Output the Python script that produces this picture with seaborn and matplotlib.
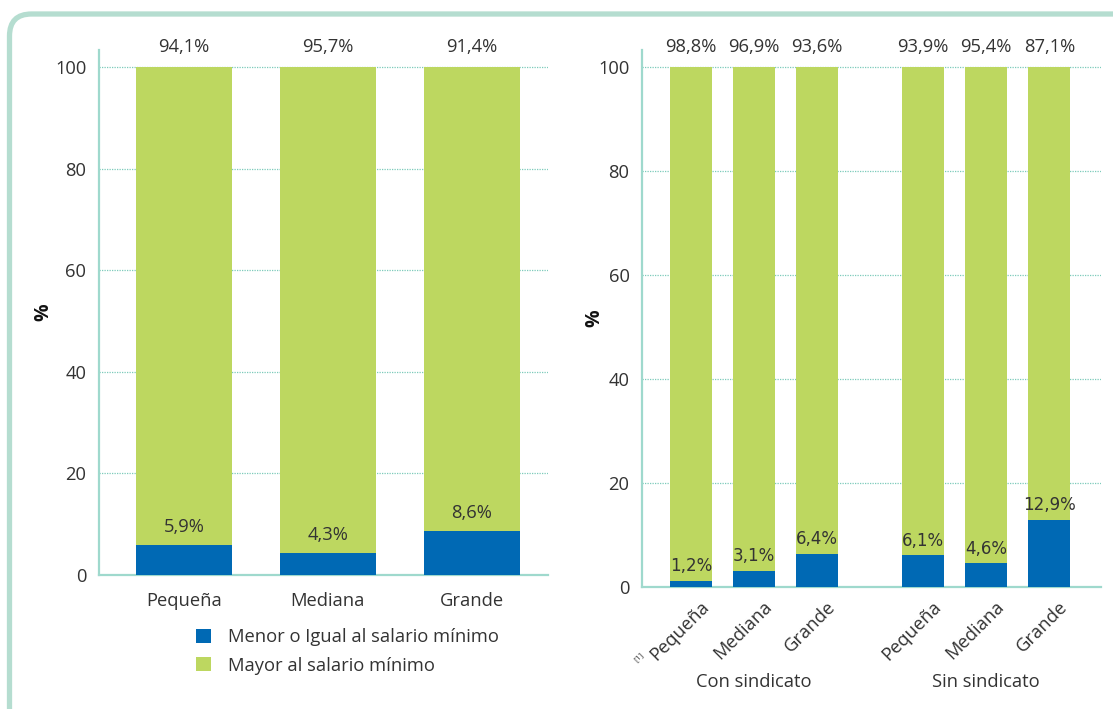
import matplotlib
matplotlib.use("Agg")
import matplotlib.pyplot as plt
import matplotlib.transforms as mtransforms
from matplotlib.patches import FancyBboxPatch, Patch
import seaborn as sns
import numpy as np

# ---- data ----
left_categories = ["Pequeña", "Mediana", "Grande"]
left_low = [5.9, 4.3, 8.6]          # Menor o Igual al salario mínimo
left_high = [94.1, 95.7, 91.4]      # Mayor al salario mínimo

right_categories = ["Pequeña", "Mediana", "Grande", "Pequeña", "Mediana", "Grande"]
right_groups = ["Con sindicato", "Con sindicato", "Con sindicato",
                "Sin sindicato", "Sin sindicato", "Sin sindicato"]
right_low = [1.2, 3.1, 6.4, 6.1, 4.6, 12.9]
right_high = [98.8, 96.9, 93.6, 93.9, 95.4, 87.1]

series_names = ["Menor o Igual al salario mínimo", "Mayor al salario mínimo"]
y_ticks = [0, 20, 40, 60, 80, 100]

# ---- style ----
BLUE = "#0069b4"
GREEN = "#bdd760"
TEAL = "#9fd9cd"
GRID = "#7ccbbb"
TXT = "#333333"
FS = 13.2

sns.set_style("white")
plt.rcParams["font.family"] = ["Open Sans", "DejaVu Sans"]
plt.rcParams["text.color"] = TXT
plt.rcParams["xtick.labelsize"] = FS
plt.rcParams["ytick.labelsize"] = FS
plt.rcParams["xtick.color"] = TXT
plt.rcParams["ytick.color"] = TXT

W, H = 1113, 709
fig = plt.figure(figsize=(W / 100, H / 100), dpi=100)

# border card
card = FancyBboxPatch((9.5, -30), 1300, 709 - 14 + 30, boxstyle="round,pad=0,rounding_size=22",
                      transform=mtransforms.IdentityTransform(), facecolor="none",
                      edgecolor="#b5ddd0", linewidth=3.8, zorder=0)
fig.patches.append(card)


def px_axes(x0, x1, ytop, ybot):
    return fig.add_axes([x0 / W, 1 - ybot / H, (x1 - x0) / W, (ybot - ytop) / H])


def style_axes(ax, ymax):
    ax.set_ylim(0, ymax)
    ax.set_yticks(y_ticks)
    ax.set_yticklabels([str(t) for t in y_ticks], fontsize=FS, color=TXT)
    ax.tick_params(axis="y", length=6, width=1.5, color=TEAL, pad=3)
    ax.tick_params(axis="x", length=0)
    for s in ["top", "right"]:
        ax.spines[s].set_visible(False)
    for s in ["left", "bottom"]:
        ax.spines[s].set_color(TEAL)
        ax.spines[s].set_linewidth(1.6)
    for t in y_ticks[1:]:
        ax.axhline(t, color=GRID, lw=0.9, ls=(0, (1, 1)), zorder=0.5)
    ax.set_xlabel("")
    ax.set_ylabel("%", fontsize=14, color="#111111", fontweight="bold")
    ax.set_axisbelow(False)


bar_kw = dict(saturation=1, width=0.667, linewidth=0, edgecolor="none")

# ---- left panel ----
axL = px_axes(99, 548, 50, 575)
left_total = [a + b for a, b in zip(left_low, left_high)]
sns.barplot(x=left_categories, y=left_total, order=left_categories, color=GREEN,
            ax=axL, zorder=2, **bar_kw)
sns.barplot(x=left_categories, y=left_low, order=left_categories, color=BLUE,
            ax=axL, zorder=3, **bar_kw)
ymaxL = (575 - 50) / 5.08
style_axes(axL, ymaxL)
axL.set_xlim(-0.59, 2.53)
axL.set_xticks(range(len(left_categories)))
axL.set_xticklabels(left_categories, fontsize=FS, color=TXT)
axL.tick_params(axis="x", pad=12)
for i, (lo, hi) in enumerate(zip(left_low, left_high)):
    axL.text(i, lo + 3.6, f"{lo:.1f}%".replace(".", ","), ha="center", va="center",
             fontsize=FS, color=TXT, zorder=4)
    axL.text(i, 104.0, f"{hi:.1f}%".replace(".", ","), ha="center", va="center",
             fontsize=FS, color=TXT, clip_on=False)
axL.yaxis.set_label_coords(-0.102, 0.5)

# legend
handles = [Patch(facecolor=BLUE, edgecolor="none"), Patch(facecolor=GREEN, edgecolor="none")]
fig.legend(handles, series_names, loc="center left", bbox_to_anchor=(196 / W, 1 - 651.5 / H),
           frameon=False, fontsize=FS, handlelength=0.82, handleheight=0.82,
           handletextpad=0.9, labelspacing=0.55, borderpad=0, borderaxespad=0,
           labelcolor=TXT)

# ---- right panel ----
axR = px_axes(642, 1101, 50, 587)
group_names = list(dict.fromkeys(right_groups))
pos = []
for g, cat in zip(right_groups, right_categories):
    gi = group_names.index(g)
    pos.append(right_groups[:len(pos)].count(g) + gi * 3.68)
pos = np.array(pos, dtype=float)
right_total = [a + b for a, b in zip(right_low, right_high)]
sns.barplot(x=pos, y=right_total, native_scale=True, color=GREEN, ax=axR, zorder=2, **bar_kw)
sns.barplot(x=pos, y=right_low, native_scale=True, color=BLUE, ax=axR, zorder=3, **bar_kw)
ymaxR = (587 - 50) / 5.2
style_axes(axR, ymaxR)
axR.set_xlim(-0.78, 6.5)
axR.set_xticks(pos)
axR.set_xticklabels(right_categories, rotation=45, ha="right", va="center",
                    rotation_mode="anchor", fontsize=FS, color=TXT)
offset = mtransforms.ScaledTranslation(15 / 100, -12 / 100, fig.dpi_scale_trans)
for lab in axR.get_xticklabels():
    lab.set_transform(lab.get_transform() + offset)
for x, lo, hi in zip(pos, right_low, right_high):
    axR.text(x, lo + 2.8, f"{lo:.1f}%".replace(".", ","), ha="center", va="center",
             fontsize=12, color=TXT, zorder=4,
             family=["Liberation Sans Narrow", "DejaVu Sans"])
    axR.text(x, 103.8, f"{hi:.1f}%".replace(".", ","), ha="center", va="center",
             fontsize=FS, color=TXT, clip_on=False)
axR.yaxis.set_label_coords(-0.083, 0.5)
tr = mtransforms.blended_transform_factory(axR.transData, axR.transAxes)
for gi, g in enumerate(group_names):
    gx = pos[[j for j, gg in enumerate(right_groups) if gg == g]].mean()
    axR.text(gx, -0.176, g, transform=tr, ha="center", va="center", fontsize=FS,
             color=TXT, clip_on=False)
# footnote marker on first label
fig.text(639 / W, 1 - 657 / H, "[1]", rotation=45, ha="center", va="center",
         fontsize=6, color=TXT)

fig.savefig("out.png", dpi=100)
